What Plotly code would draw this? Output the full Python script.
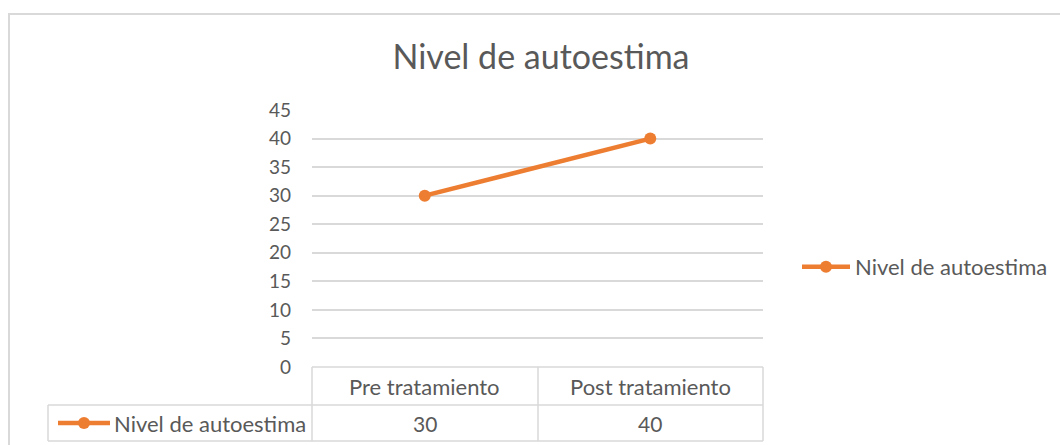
import plotly.graph_objects as go

# ---- data ----
categories = ["Pre tratamiento", "Post tratamiento"]
values = [30, 40]
series_name = "Nivel de autoestima"
chart_title = "Nivel de autoestima"
y_ticks = [0, 5, 10, 15, 20, 25, 30, 35, 40, 45]

# ---- layout constants (pixels) ----
W, H = 1060, 445
L, R, T, B = 312, 297, 110, 78
PW, PH = W - L - R, H - T - B
ORANGE = "#ED7D31"
GRID = "#d9d9d9"
TXT = "#595959"
FONT = "Lato, Open Sans, sans-serif"


def px(xp):
    return (xp - L) / PW


def py(yp):
    return (H - B - yp) / PH


fig = go.Figure()
fig.add_trace(go.Scatter(
    x=categories, y=values, name=series_name, mode="lines+markers",
    line=dict(color=ORANGE, width=4.5),
    marker=dict(color=ORANGE, size=12),
))

shapes = []
# outer chart border
shapes.append(dict(type="rect", xref="paper", yref="paper",
                   x0=px(9), x1=px(1075), y0=py(14), y1=py(460),
                   line=dict(color="#d9d9d9", width=2), layer="below"))


def hline(x0, x1, y):
    shapes.append(dict(type="line", xref="paper", yref="paper",
                       x0=px(x0), x1=px(x1), y0=py(y), y1=py(y),
                       line=dict(color=GRID, width=1.5)))


def vline(x, y0, y1):
    shapes.append(dict(type="line", xref="paper", yref="paper",
                       x0=px(x), x1=px(x), y0=py(y0), y1=py(y1),
                       line=dict(color=GRID, width=1.5)))


# data table grid
hline(312, 763, 367)
hline(48, 763, 405)
hline(48, 763, 441)
vline(48, 405, 441)
vline(312, 367, 441)
vline(538, 367, 441)
vline(763, 367, 441)

# legend key in table
shapes.append(dict(type="line", xref="paper", yref="paper",
                   x0=px(58), x1=px(110), y0=py(423), y1=py(423),
                   line=dict(color=ORANGE, width=4.5)))
shapes.append(dict(type="circle", xref="paper", yref="paper",
                   x0=px(78), x1=px(90), y0=py(417), y1=py(429),
                   fillcolor=ORANGE, line=dict(color=ORANGE, width=0)))

annotations = []
for c, v in zip(categories, values):
    annotations.append(dict(x=c, xref="x", y=py(386), yref="paper",
                            yanchor="middle", xanchor="center",
                            text=c, showarrow=False,
                            font=dict(family=FONT, size=22, color=TXT)))
    annotations.append(dict(x=c, xref="x", y=py(423), yref="paper",
                            yanchor="middle", xanchor="center",
                            text=str(v), showarrow=False,
                            font=dict(family=FONT, size=21, color=TXT)))
annotations.append(dict(x=px(112), xref="paper", y=py(423), yref="paper",
                        yanchor="middle",
                        text=series_name, showarrow=False, xanchor="left",
                        font=dict(family=FONT, size=22, color=TXT)))

fig.update_layout(
    width=W, height=H,
    margin=dict(l=L, r=R, t=T, b=B, autoexpand=False),
    paper_bgcolor="white", plot_bgcolor="white",
    title=dict(text=chart_title, x=541 / W, xanchor="center",
               y=1 - 57 / H, yanchor="middle",
               font=dict(family=FONT, size=34, color=TXT)),
    showlegend=True,
    legend=dict(x=px(797), xanchor="left", y=py(267), yanchor="middle",
                itemwidth=48,
                font=dict(family=FONT, size=22, color=TXT),
                bgcolor="rgba(0,0,0,0)"),
    xaxis=dict(type="category", range=[-0.5, 1.5], showticklabels=False,
               showgrid=False, zeroline=False,
               showline=False, ticks="", fixedrange=True),
    yaxis=dict(range=[0, 45], tickvals=y_ticks, showgrid=True,
               gridcolor=GRID, gridwidth=1.5, zeroline=False,
               showline=False, ticks="", ticklabelstandoff=20,
               tickfont=dict(family=FONT, size=19, color=TXT)),
    shapes=shapes, annotations=annotations,
)

fig.write_html("out.html")
